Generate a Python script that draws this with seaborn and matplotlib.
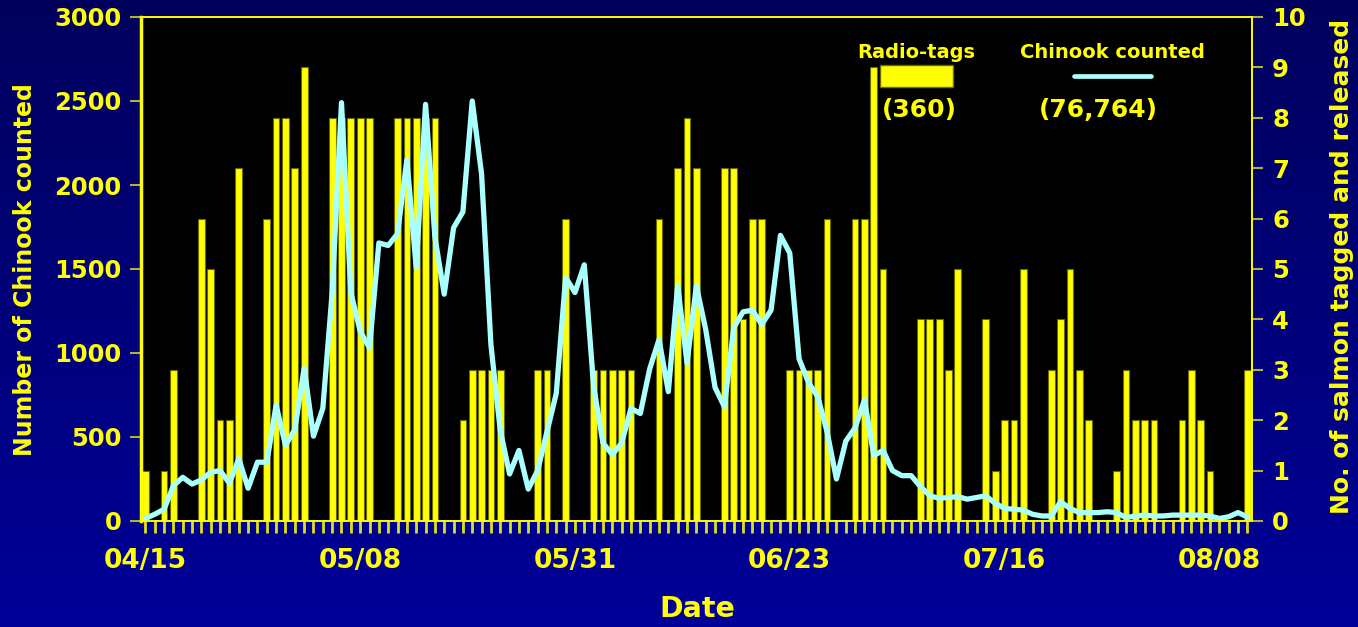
import numpy as np
import pandas as pd
import matplotlib
matplotlib.use("Agg")
import matplotlib.pyplot as plt
import seaborn as sns
from matplotlib.colors import LinearSegmentedColormap
from matplotlib.patches import Rectangle
from matplotlib.lines import Line2D

# daily radio-tags released (right axis), 04/15 .. 08/11
tags = [1, 0, 1, 3, 0, 0, 6, 5, 2, 2,
        7, 0, 0, 6, 8, 8, 7, 9, 0, 0,
        8, 8, 8, 8, 8, 0, 0, 8, 8, 8,
        8, 8, 0, 0, 2, 3, 3, 3, 3, 0,
        0, 0, 3, 3, 0, 6, 0, 0, 3, 3,
        3, 3, 3, 0, 0, 6, 0, 7, 8, 7,
        0, 0, 7, 7, 4, 6, 6, 0, 0, 3,
        3, 3, 3, 6, 0, 0, 6, 6, 9, 5,
        0, 0, 0, 4, 4, 4, 3, 5, 0, 0,
        4, 1, 2, 2, 5, 0, 0, 3, 4, 5,
        3, 2, 0, 0, 1, 3, 2, 2, 2, 0,
        0, 2, 3, 2, 1, 0, 0, 0, 3]

# daily chinook counted (left axis)
chinook = [15, 40, 70, 210, 260, 220, 245, 290, 300, 225,
           370, 195, 350, 350, 690, 450, 545, 910, 505, 670,
           1360, 2490, 1360, 1130, 1030, 1655, 1640, 1710, 2150, 1510,
           2480, 1690, 1350, 1745, 1840, 2500, 2065, 1050, 540, 280,
           420, 190, 300, 530, 760, 1450, 1360, 1525, 800, 465,
           395, 465, 670, 640, 905, 1080, 770, 1400, 940, 1400,
           1140, 795, 680, 1150, 1245, 1255, 1170, 1255, 1700, 1595,
           965, 825, 740, 530, 250, 475, 555, 720, 390, 420,
           300, 270, 270, 205, 150, 135, 140, 145, 130, 140,
           150, 105, 75, 70, 65, 40, 30, 30, 115, 75,
           50, 50, 50, 55, 50, 20, 30, 35, 30, 30,
           35, 35, 35, 35, 30, 15, 25, 50, 25]

tick_days = [0, 23, 46, 69, 92, 115]
tick_labels = ["04/15", "05/08", "05/31", "06/23", "07/16", "08/08"]

df = pd.DataFrame({"day": np.arange(len(tags)), "tags": tags, "chinook": chinook})

YEL = "#FFFF00"
CYAN = "#AAFFFF"
plt.rcParams["font.family"] = "DejaVu Sans"
plt.rcParams["font.weight"] = "bold"

W, H = 1358, 627
fig = plt.figure(figsize=(W / 100, H / 100), dpi=100)

# navy gradient background
bg = fig.add_axes([0, 0, 1, 1], zorder=-10)
grad = np.linspace(0, 1, 256).reshape(-1, 1)
bg.imshow(grad, aspect="auto", extent=[0, 1, 0, 1],
          cmap=LinearSegmentedColormap.from_list("bg", ["#00005C", "#000098"]))
bg.axis("off")

ax = fig.add_axes([141 / W, 1 - 521 / H, (1252 - 141) / W, (521 - 17) / H])
ax2 = ax.twinx()

sns.barplot(data=df, x="day", y="tags", ax=ax2, color=YEL, saturation=1,
            width=0.72, edgecolor="#6B6B00", linewidth=0.8)
sns.lineplot(data=df, x="day", y="chinook", ax=ax, color=CYAN, linewidth=3.8,
             solid_joinstyle="round", solid_capstyle="round")

ax.set_zorder(ax2.get_zorder() + 1)
ax.patch.set_visible(False)
ax2.patch.set_visible(True)
ax2.set_facecolor("black")

ax.set_xlim(-0.47, 118.5)
ax.set_ylim(0, 3000)
ax2.set_ylim(0, 10)
ax.set_yticks(range(0, 3001, 500))
ax2.set_yticks(range(0, 11))
ax.set_xticks(tick_days)
ax.set_xticklabels(tick_labels)
ax.set_xticks(range(len(tags)), minor=True)

ax.tick_params(axis="x", which="both", direction="out", length=8.6, width=2.0,
               color="#E0E020", pad=11, labelsize=19, labelcolor=YEL)
ax.tick_params(axis="y", direction="out", length=8, width=1.5, color="#B0B040",
               pad=6, labelsize=17.5, labelcolor=YEL)
ax2.tick_params(axis="y", direction="out", length=8, width=1.5, color="#B0B040",
                pad=6.5, labelsize=17.5, labelcolor=YEL)

for a in (ax, ax2):
    a.set_xlabel("")
    a.set_ylabel("")
    for s in a.spines.values():
        s.set_color(YEL)
        s.set_linewidth(1.2)
ax.spines["left"].set_linewidth(2.5)

# axis titles
fig.text(25 / W, 1 - 270 / H, "Number of Chinook counted", rotation=90,
         ha="center", va="center", color=YEL, fontsize=17)
fig.text(1342 / W, 1 - 266 / H, "No. of salmon tagged and released", rotation=90,
         ha="center", va="center", color=YEL, fontsize=18)
fig.text(697 / W, 1 - 609 / H, "Date", ha="center", va="center",
         color=YEL, fontsize=20.5)

# legend
fig.text(916 / W, 1 - 53 / H, "Radio-tags", ha="center", va="center",
         color=YEL, fontsize=14, zorder=20)
fig.add_artist(Rectangle((880 / W, 1 - 87 / H), 73 / W, 22 / H,
                         transform=fig.transFigure, facecolor=YEL,
                         edgecolor="#6B6B00", linewidth=1, zorder=20))
fig.text(919 / W, 1 - 110 / H, "(360)", ha="center", va="center",
         color=YEL, fontsize=18, zorder=20)
fig.text(1112 / W, 1 - 53 / H, "Chinook counted", ha="center", va="center",
         color=YEL, fontsize=14, zorder=20)
fig.add_artist(Line2D([1074 / W, 1151 / W], [1 - 75.5 / H] * 2,
                      transform=fig.transFigure, color=CYAN, linewidth=3.4,
                      solid_capstyle="round", zorder=20))
fig.text(1098 / W, 1 - 110 / H, "(76,764)", ha="center", va="center",
         color=YEL, fontsize=18, zorder=20)

fig.savefig("out.png", dpi=100)
